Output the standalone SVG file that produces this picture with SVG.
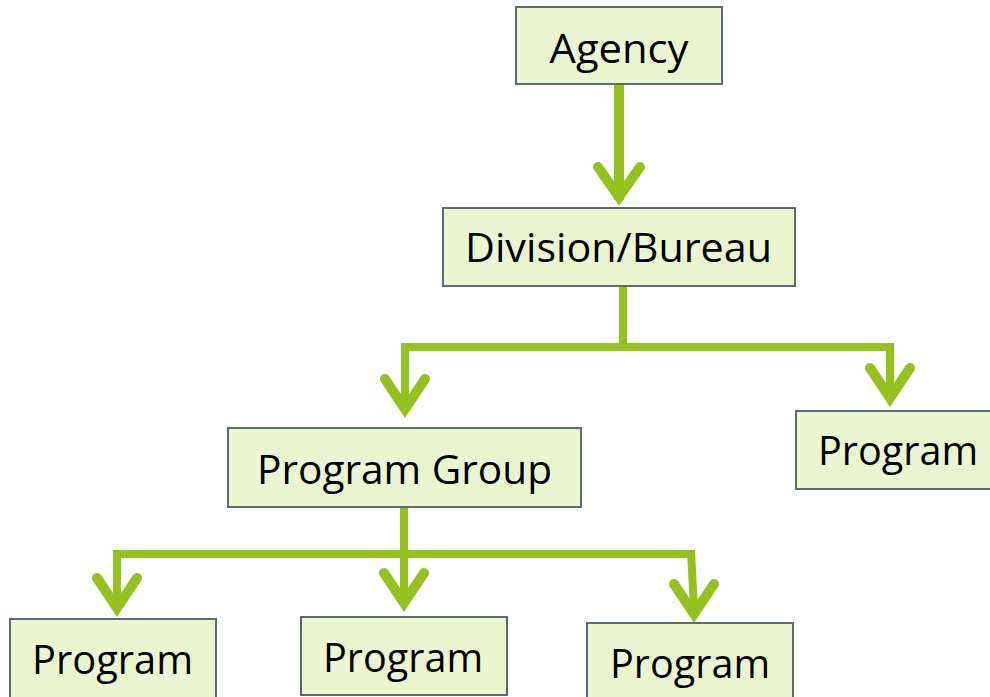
<svg xmlns="http://www.w3.org/2000/svg" width="990" height="697" viewBox="0 0 990 697">
<style>
.box{fill:#EBF5D0;stroke:#5E6B73;stroke-width:2}
.lbl{font-family:"Open Sans","Liberation Sans",sans-serif;font-size:40px;fill:#000;text-anchor:middle}
.ln{fill:none;stroke:#95C11F;stroke-width:8}
.ar{fill:none;stroke:#95C11F;stroke-width:10;stroke-linecap:round;stroke-linejoin:miter;stroke-miterlimit:10}
</style>
<rect width="990" height="697" fill="#fff"/>
<g id="connectors">
<path class="ln" d="M619,84 V200" style="stroke-width:10"/>
<path class="ar" d="M598,167 L619,197 L640,167"/>
<path class="ln" d="M623,286 V347 M405,347 H890 M405,343 V405 M890,343 V395"/>
<path class="ar" d="M385,379 L405,409 L425,379"/>
<path class="ar" d="M870,368 L890,398 L910,368"/>
<path class="ln" d="M404,507 V600 M117,554 H691 M117,550 V605 M691,550 L694,610"/>
<path class="ar" d="M97,578 L117,608 L137,578"/>
<path class="ar" d="M384,573 L404,603 L424,573"/>
<path class="ar" d="M674,584 L694,614 L714,584"/>
</g>
<g id="agency"><rect class="box" x="516" y="7" width="206" height="77"/><text class="lbl" x="619" y="63" textLength="139" lengthAdjust="spacingAndGlyphs">Agency</text></g>
<g id="division"><rect class="box" x="443" y="208" width="352" height="78"/><text class="lbl" x="618.5" y="262" textLength="307" lengthAdjust="spacingAndGlyphs">Division/Bureau</text></g>
<g id="program-group"><rect class="box" x="228" y="428" width="353" height="79"/><text class="lbl" x="404.5" y="484" textLength="295" lengthAdjust="spacingAndGlyphs">Program Group</text></g>
<g id="program-right"><rect class="box" x="796" y="411" width="200" height="78"/><text class="lbl" x="898" y="465" textLength="160" lengthAdjust="spacingAndGlyphs">Program</text></g>
<g id="program-1"><rect class="box" x="10" y="619" width="206" height="86"/><text class="lbl" x="112.5" y="674" textLength="161" lengthAdjust="spacingAndGlyphs">Program</text></g>
<g id="program-2"><rect class="box" x="301" y="617" width="206" height="78"/><text class="lbl" x="403" y="672" textLength="160" lengthAdjust="spacingAndGlyphs">Program</text></g>
<g id="program-3"><rect class="box" x="587" y="623" width="206" height="86"/><text class="lbl" x="690" y="678" textLength="160" lengthAdjust="spacingAndGlyphs">Program</text></g>
</svg>
